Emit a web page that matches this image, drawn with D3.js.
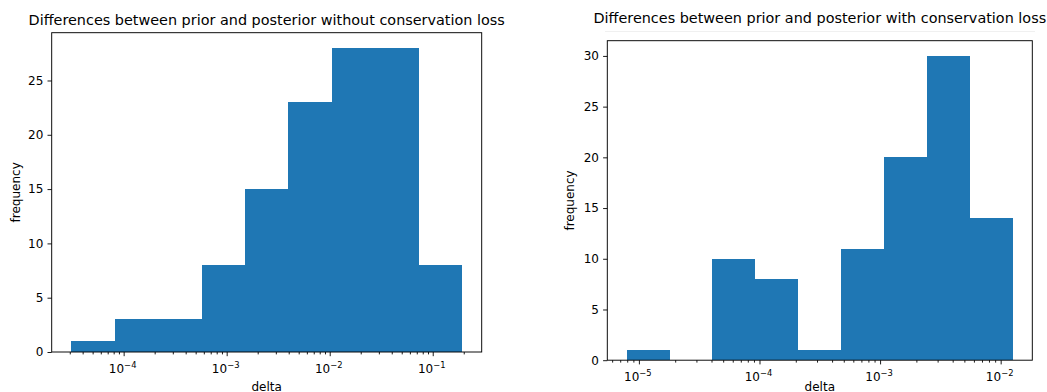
<!DOCTYPE html>
<html>
<head>
<meta charset="utf-8">
<script src="https://cdn.jsdelivr.net/npm/d3@7"></script>
<style>
  body { margin: 0; background: #fff; }
  svg { display: block; }
  text { font-family: "DejaVu Sans", sans-serif; fill: #000; }
</style>
</head>
<body>
<svg id="chart" width="1047" height="392"></svg>
<script>
// Histogram of |prior - posterior| deltas, log-spaced bins
const leftEdges  = [3.10e-5, 8.19e-5, 2.16e-4, 5.70e-4, 1.50e-3, 3.97e-3, 1.05e-2, 2.77e-2, 7.31e-2, 0.193];
const leftCounts = [1, 3, 3, 8, 15, 23, 28, 28, 8];
const rightEdges  = [7.91e-6, 1.795e-5, 4.07e-5, 9.25e-5, 2.10e-4, 4.76e-4, 1.08e-3, 2.45e-3, 5.57e-3, 1.265e-2];
const rightCounts = [1, 0, 10, 8, 1, 11, 20, 30, 14];

const leftYTicks  = [0, 5, 10, 15, 20, 25];
const rightYTicks = [0, 5, 10, 15, 20, 25, 30];
const leftXTicks  = [1e-4, 1e-3, 1e-2, 1e-1];
const rightXTicks = [1e-5, 1e-4, 1e-3, 1e-2];

const leftTitle  = "Differences between prior and posterior without conservation loss";
const rightTitle = "Differences between prior and posterior with conservation loss";
const xLabel = "delta";
const yLabel = "frequency";

const BAR = "#1f77b4";
const svg = d3.select("#chart");

function panel(cfg) {
  const { edges, counts, yTicks, xTicks, title, box, titleY } = cfg;
  const g = svg.append("g");

  // log x-domain with a 5% margin (in log space) around the bin range
  const lo = Math.log10(edges[0]), hi = Math.log10(edges[edges.length - 1]);
  const pad = 0.05 * (hi - lo);
  const x = d3.scaleLog()
    .domain([Math.pow(10, lo - pad), Math.pow(10, hi + pad)])
    .range([box.left, box.right]);
  const y = d3.scaleLinear()
    .domain([0, d3.max(counts) * 1.05])
    .range([box.bottom, box.top]);

  // bars
  const bins = counts.map((c, i) => ({ x0: edges[i], x1: edges[i + 1], c }));
  g.append("g").selectAll("rect")
    .data(bins.filter(d => d.c > 0))
    .join("rect")
    .attr("x", d => x(d.x0))
    .attr("width", d => x(d.x1) - x(d.x0))
    .attr("y", d => y(d.c))
    .attr("height", d => y(0) - y(d.c))
    .attr("fill", BAR)
    .attr("shape-rendering", "crispEdges");

  // minor log ticks (2..9 x 10^k)
  const [d0, d1] = x.domain();
  const minors = [];
  for (let k = Math.floor(Math.log10(d0)); k <= Math.ceil(Math.log10(d1)); k++) {
    for (let m = 2; m <= 9; m++) {
      const v = m * Math.pow(10, k);
      if (v >= d0 && v <= d1) minors.push(v);
    }
  }
  const xMinor = g.append("g")
    .attr("transform", `translate(0,${box.bottom})`)
    .call(d3.axisBottom(x).tickValues(minors).tickSize(2.4).tickFormat(""));
  xMinor.select(".domain").remove();

  const xMajor = g.append("g")
    .attr("transform", `translate(0,${box.bottom})`)
    .call(d3.axisBottom(x).tickValues(xTicks).tickSize(4.2).tickFormat(""));
  xMajor.select(".domain").remove();
  g.selectAll(".tick line").attr("stroke", "#000").attr("stroke-width", 0.9);

  // 10^k labels with superscript exponent
  xTicks.forEach(v => {
    const e = Math.round(Math.log10(v));
    const t = g.append("text")
      .attr("x", x(v) - 1)
      .attr("y", box.bottom + 21)
      .attr("text-anchor", "middle")
      .attr("font-size", 12);
    t.append("tspan").text("10");
    t.append("tspan")
      .attr("font-size", 8.4)
      .attr("dy", -5)
      .text((e < 0 ? "\u2212" : "") + Math.abs(e));
  });

  // y axis
  const yAx = g.append("g")
    .attr("transform", `translate(${box.left},0)`)
    .call(d3.axisLeft(y).tickValues(yTicks).tickSize(4.2).tickPadding(4.2));
  yAx.select(".domain").remove();
  yAx.attr("font-family", null).attr("font-size", null);
  yAx.selectAll("text").attr("font-size", 12).attr("fill", "#000");
  yAx.selectAll("line").attr("stroke", "#000").attr("stroke-width", 0.9);

  // frame
  g.append("rect")
    .attr("x", box.left).attr("y", box.top)
    .attr("width", box.right - box.left)
    .attr("height", box.bottom - box.top)
    .attr("fill", "none")
    .attr("stroke", "#000")
    .attr("stroke-width", 0.95);

  // title and axis labels
  const cx = (box.left + box.right) / 2;
  g.append("text")
    .attr("x", cx).attr("y", titleY)
    .attr("text-anchor", "middle")
    .attr("font-size", 14.4)
    .text(title);
  g.append("text")
    .attr("x", cx).attr("y", 390.5)
    .attr("text-anchor", "middle")
    .attr("font-size", 12)
    .text(xLabel);
  const cy = (box.top + box.bottom) / 2;
  g.append("text")
    .attr("transform", `translate(${cfg.yLabelX},${cy}) rotate(-90)`)
    .attr("text-anchor", "middle")
    .attr("font-size", 12)
    .text(yLabel);
  return g;
}

panel({
  edges: leftEdges, counts: leftCounts, yTicks: leftYTicks, xTicks: leftXTicks,
  title: leftTitle, titleY: 24.5, yLabelX: 19.5,
  box: { left: 51.7, right: 481.7, top: 32.7, bottom: 352 }
});

const rg = panel({
  edges: rightEdges, counts: rightCounts, yTicks: rightYTicks, xTicks: rightXTicks,
  title: rightTitle, titleY: 23, yLabelX: 573.5,
  box: { left: 607.3, right: 1032.3, top: 40.7, bottom: 360.2 }
});

// faint rule beneath the right-hand title
rg.append("line")
  .attr("x1", 605).attr("x2", 1035)
  .attr("y1", 31.5).attr("y2", 31.5)
  .attr("stroke", "#f0f0f0")
  .attr("stroke-width", 1);
</script>
</body>
</html>
